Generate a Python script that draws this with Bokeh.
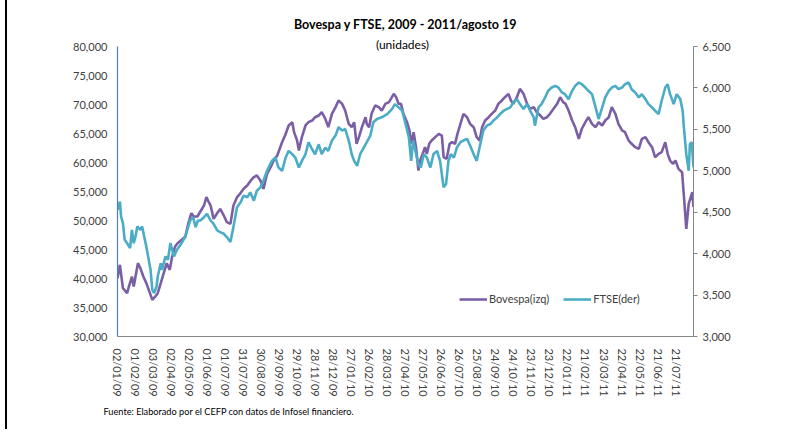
import pandas as pd
from bokeh.plotting import figure
from bokeh.layouts import row
from bokeh.models import (Range1d, LinearAxis, FixedTicker, NumeralTickFormatter,
                          Legend, LegendItem, Label, Title, ColumnDataSource, Div, Spacer)
from bokeh.embed import file_html
from bokeh.resources import INLINE

# ---------------- data ----------------
start_date = "02/01/09"
x_labels = ["02/01/09", "01/02/09", "03/03/09", "02/04/09", "02/05/09", "01/06/09",
            "01/07/09", "31/07/09", "30/08/09", "29/09/09", "29/10/09", "28/11/09",
            "28/12/09", "27/01/10", "26/02/10", "28/03/10", "27/04/10", "27/05/10",
            "26/06/10", "26/07/10", "25/08/10", "24/09/10", "24/10/10", "23/11/10",
            "23/12/10", "22/01/11", "21/02/11", "23/03/11", "22/04/11", "22/05/11",
            "21/06/11", "21/07/11"]
end_date = "19/08/11"

# days elapsed since 02/01/09
bov_day = [0, 4, 9, 16, 19, 24, 27, 34, 38, 43, 48, 54, 58, 63, 67, 72, 77, 82, 87, 91,
           96, 100, 107, 113, 118, 123, 127, 133, 144, 148, 152, 155, 160, 167, 171, 177, 182, 188, 193, 199,
           204, 210, 216, 222, 227, 232, 238, 243, 249, 255, 260, 266, 274, 279, 285, 291, 294, 299, 302, 307,
           313, 318, 324, 329, 335, 340, 346, 351, 357, 363, 368, 374, 379, 385, 390, 394, 398, 402, 407, 413,
           415, 419, 423, 429, 435, 440, 446, 452, 460, 464, 468, 472, 476, 482, 486, 490, 493, 497, 501, 504,
           508, 512, 515, 519, 523, 529, 535, 540, 543, 548, 553, 557, 562, 566, 571, 576, 582, 587, 593, 598,
           603, 607, 612, 618, 623, 629, 634, 640, 645, 651, 655, 659, 665, 670, 676, 682, 687, 693, 698, 704,
           709, 715, 720, 726, 732, 737, 742, 746, 751, 757, 762, 768, 773, 779, 784, 790, 796, 801, 807, 812,
           818, 823, 829, 834, 840, 845, 851, 856, 862, 868, 873, 879, 884, 890, 895, 901, 906, 912, 916, 920,
           925, 929, 934, 940, 944, 947, 951, 957, 959]
bovespa = [40060, 42360, 38330, 37470, 38620, 40340, 38620, 42640, 41780, 40340,
           39200, 37470, 36320, 36900, 37470, 39200, 40920, 42640, 41490, 43790,
           45520, 46090, 46670, 47240, 49540, 51260, 50690, 50690, 52580, 54030,
           53170, 52580, 50280, 51430, 52000, 50860, 49710, 49420, 52580, 54020,
           54600, 55460, 56030, 56900, 57470, 57760, 56900, 55460, 58050, 59190,
           60340, 61200, 63500, 64650, 66380, 66950, 65230, 63790, 62070, 64370,
           66380, 66950, 67240, 67810, 68100, 68670, 67520, 66090, 68390, 69540,
           70690, 70110, 68960, 66660, 66090, 66950, 63220, 64370, 66090, 67810,
           66660, 66090, 68390, 69820, 69540, 68960, 70110, 70400, 71840, 71260,
           70110, 70110, 68390, 66950, 65520, 63220, 65230, 62640, 58620, 60340,
           61490, 62640, 61490, 63220, 63790, 64370, 64940, 64650, 60910, 60630,
           63220, 63500, 63220, 64940, 66660, 68390, 67810, 66660, 66090, 64370,
           63790, 66090, 67240, 67810, 68390, 68960, 70110, 70690, 71260, 71840,
           70690, 70110, 71260, 72700, 71840, 70110, 69250, 69540, 68670, 68100,
           67520, 67810, 68390, 69250, 70110, 71260, 70400, 70110, 68960, 67240,
           66090, 64080, 65800, 66950, 67810, 66660, 66090, 66950, 66380, 67240,
           67810, 69540, 68390, 66660, 65520, 65230, 63790, 63220, 62640, 62360,
           64080, 64370, 63500, 62640, 60910, 61490, 61780, 63500, 61490, 60340,
           59770, 60340, 58900, 58330, 52870, 48560, 52870, 54880, 52300]

ftse_day = [0, 4, 6, 9, 12, 16, 21, 24, 27, 30, 33, 38, 41, 45, 48, 52, 55, 58, 61, 65,
            67, 72, 74, 80, 84, 88, 94, 99, 105, 113, 118,
            121, 126, 130, 134, 138, 144, 149, 155, 160, 166, 171, 177, 182, 188, 193, 199, 205, 210, 216, 221,
            227, 232, 238, 243, 249, 257, 263, 268, 274, 280, 285, 291, 296, 302, 307, 313, 318, 324, 329, 335,
            340, 346, 351, 357, 363, 368, 374, 379, 385, 390, 394, 399, 404, 410, 415, 421, 426, 432, 440, 449,
            457, 462,
            468, 474, 479, 485, 489, 492, 496, 501, 505, 510, 515, 521, 526, 532, 537, 543, 547, 551, 555, 560,
            565, 571, 576, 582, 587, 593, 598, 604, 609, 615, 621, 626, 632, 637, 643, 648, 654, 659, 665, 670,
            676, 682, 687, 693, 695, 701, 706, 712, 717, 723, 729, 734, 740, 745, 751, 757, 762, 768, 773, 779,
            784, 790, 796, 801, 807, 812, 818, 823, 829, 834, 840, 845, 851, 856, 862, 868, 873, 879, 884, 890,
            895, 901, 906, 912, 916, 920, 926, 931, 937, 941, 943, 947, 951, 953, 956, 959]
ftse = [4529, 4629, 4448, 4368, 4167, 4126, 4066, 4287, 4126, 4207,
        4328, 4287, 4328, 4187, 4086, 3925, 3805, 3563, 3523, 3603,
        3724, 3885, 3805, 3966, 3925, 4126, 3966, 4046, 4106, 4207, 4328,
        4400, 4440, 4320, 4400, 4400, 4440, 4480, 4400, 4360, 4280,
        4260, 4240, 4200, 4140, 4320, 4560, 4620, 4700, 4680, 4740,
        4640, 4760, 4800, 4880, 5000, 5120, 5160, 5040, 5000, 5160,
        5240, 5200, 5160, 5040, 5120, 5200, 5345, 5260, 5200, 5320,
        5200, 5280, 5240, 5365, 5425, 5525, 5485, 5505, 5365, 5200,
        5120, 5060, 5200, 5280, 5345, 5425, 5585, 5625, 5645, 5685,
        5745, 5805,
        5765, 5725, 5585, 5405, 5120, 5365, 5240, 5080, 5040, 5200,
        5160, 5040, 5200, 5240, 5120, 4800, 4840, 5120, 5200, 5160,
        5280, 5345, 5365, 5385, 5305, 5200, 5120, 5320, 5485, 5545,
        5565, 5605, 5645, 5685, 5725, 5745, 5765, 5825, 5865, 5805,
        5745, 5805, 5725, 5645, 5545, 5765, 5805, 5885, 5965, 6005,
        6025, 6005, 5945, 5925, 5865, 5965, 6025, 6065, 6045, 6005,
        5965, 5925, 5765, 5625, 5765, 5885, 5965, 6005, 6025, 5985,
        6005, 6045, 6065, 5985, 5945, 5885, 5925, 5865, 5805, 5765,
        5725, 5685, 5845, 6005, 6045, 5925, 5805, 5925, 5865, 5725,
        5525, 5200, 5000, 5320, 5345, 5040]

left_min, left_max = 30000, 80000
right_min, right_max = 3000, 6500
left_ticks = [30000, 35000, 40000, 45000, 50000, 55000, 60000, 65000, 70000, 75000, 80000]
right_ticks = [3000, 3500, 4000, 4500, 5000, 5500, 6000, 6500]

title_text = "Bovespa y FTSE, 2009 - 2011/agosto 19"
subtitle_text = "(unidades)"
source_text = "Fuente: Elaborado por el CEFP con datos de Infosel financiero."

# ---------------- layout constants (px) ----------------
FIG_W, FIG_H = 779, 429
AX_TOP, AX_BOTTOM = 46, 336          # pixel rows of 80,000 and 30,000
FRAME_TOP = 12                       # frame reaches higher, so the titles fit in it
AX_LEFT, AX_RIGHT = 110, 686         # figure x of the left and right axes

# ---------------- derived ----------------
t0 = pd.to_datetime(start_date, format="%d/%m/%y")
tick_pos = [int((pd.to_datetime(s, format="%d/%m/%y") - t0).days) for s in x_labels]
x_end = int((pd.to_datetime(end_date, format="%d/%m/%y") - t0).days)

extra = (AX_TOP - FRAME_TOP) / (AX_BOTTOM - AX_TOP)
y_top = left_max + (left_max - left_min) * extra
y2_top = right_max + (right_max - right_min) * extra

FONT = "Lato"
TXT = "#404040"
PURPLE = "#7B5FA5"
TEAL = "#4BACC6"

p = figure(width=FIG_W, height=FIG_H, output_backend="svg", toolbar_location=None,
           title=None,
           x_range=Range1d(0, x_end), y_range=Range1d(left_min, y_top),
           min_border_left=AX_LEFT, min_border_right=FIG_W - AX_RIGHT,
           min_border_top=FRAME_TOP, min_border_bottom=FIG_H - AX_BOTTOM)
p.extra_y_ranges = {"ftse": Range1d(right_min, y2_top)}
p.outline_line_color = None
p.xgrid.visible = False
p.ygrid.visible = False

# left axis
ya = p.yaxis[0]
ya.ticker = FixedTicker(ticks=left_ticks)
ya.bounds = (left_min, left_max)
ya.formatter = NumeralTickFormatter(format="0,0")
ya.axis_line_color = "#4F81BD"
ya.axis_line_width = 1.2
ya.major_tick_line_color = None
ya.minor_tick_line_color = None
ya.major_label_standoff = 4
ya.major_label_text_font = FONT
ya.major_label_text_font_size = "11px"
ya.major_label_text_color = TXT

# right axis
ra = LinearAxis(y_range_name="ftse", ticker=FixedTicker(ticks=right_ticks),
                formatter=NumeralTickFormatter(format="0,0"), bounds=(right_min, right_max))
ra.axis_line_color = "#868686"
ra.major_tick_line_color = "#868686"
ra.major_tick_in = 0
ra.major_tick_out = 4
ra.minor_tick_line_color = None
ra.major_label_standoff = 5
ra.major_label_text_font = FONT
ra.major_label_text_font_size = "11px"
ra.major_label_text_color = TXT
p.add_layout(ra, "right")

# bottom axis
xa = p.xaxis[0]
xa.ticker = FixedTicker(ticks=tick_pos)
xa.major_label_overrides = {pos: lab for pos, lab in zip(tick_pos, x_labels)}
xa.major_label_orientation = "vertical"
xa.axis_line_color = "#868686"
xa.major_tick_line_color = None
xa.minor_tick_line_color = None
xa.major_label_standoff = 6
xa.major_label_text_font = FONT
xa.major_label_text_font_size = "11px"
xa.major_label_text_color = TXT

src_b = ColumnDataSource(dict(x=bov_day, y=bovespa))
src_f = ColumnDataSource(dict(x=ftse_day, y=ftse))
r1 = p.line("x", "y", source=src_b, line_color=PURPLE, line_width=2.6)
r2 = p.line("x", "y", source=src_f, line_color=TEAL, line_width=2.6, y_range_name="ftse")

legend = Legend(items=[LegendItem(label="Bovespa(izq)", renderers=[r1]),
                       LegendItem(label="FTSE(der)", renderers=[r2])],
                orientation="horizontal", location=(342, 31),
                border_line_color=None, background_fill_alpha=0,
                label_text_font=FONT, label_text_font_size="11px",
                label_text_color=TXT, glyph_width=28, glyph_height=12,
                spacing=14, padding=0, margin=0, label_standoff=2)
p.add_layout(legend)

# titles, placed inside the (taller) frame, above the axes' top
p.add_layout(Label(x=288, y=AX_BOTTOM - 24, x_units="screen", y_units="screen", text=title_text,
                   text_align="center", text_baseline="middle", text_font=FONT,
                   text_font_style="bold", text_font_size="12.5px", text_color="black"))
p.add_layout(Label(x=285, y=AX_BOTTOM - 44, x_units="screen", y_units="screen", text=subtitle_text,
                   text_align="center", text_baseline="middle", text_font=FONT,
                   text_font_size="12px", text_color="black"))

# source note below the x axis
p.add_layout(Title(text=source_text, align="left", offset=-14, standoff=9,
                   text_font=FONT, text_font_size="9.2px", text_font_style="normal",
                   text_color="black"), "below")

strip = Div(width=2, height=FIG_H, margin=0, styles={"background-color": "black"})
layout = row(Spacer(width=5, height=FIG_H, margin=0), strip, p)

open("out.html", "w").write(file_html(layout, INLINE))
